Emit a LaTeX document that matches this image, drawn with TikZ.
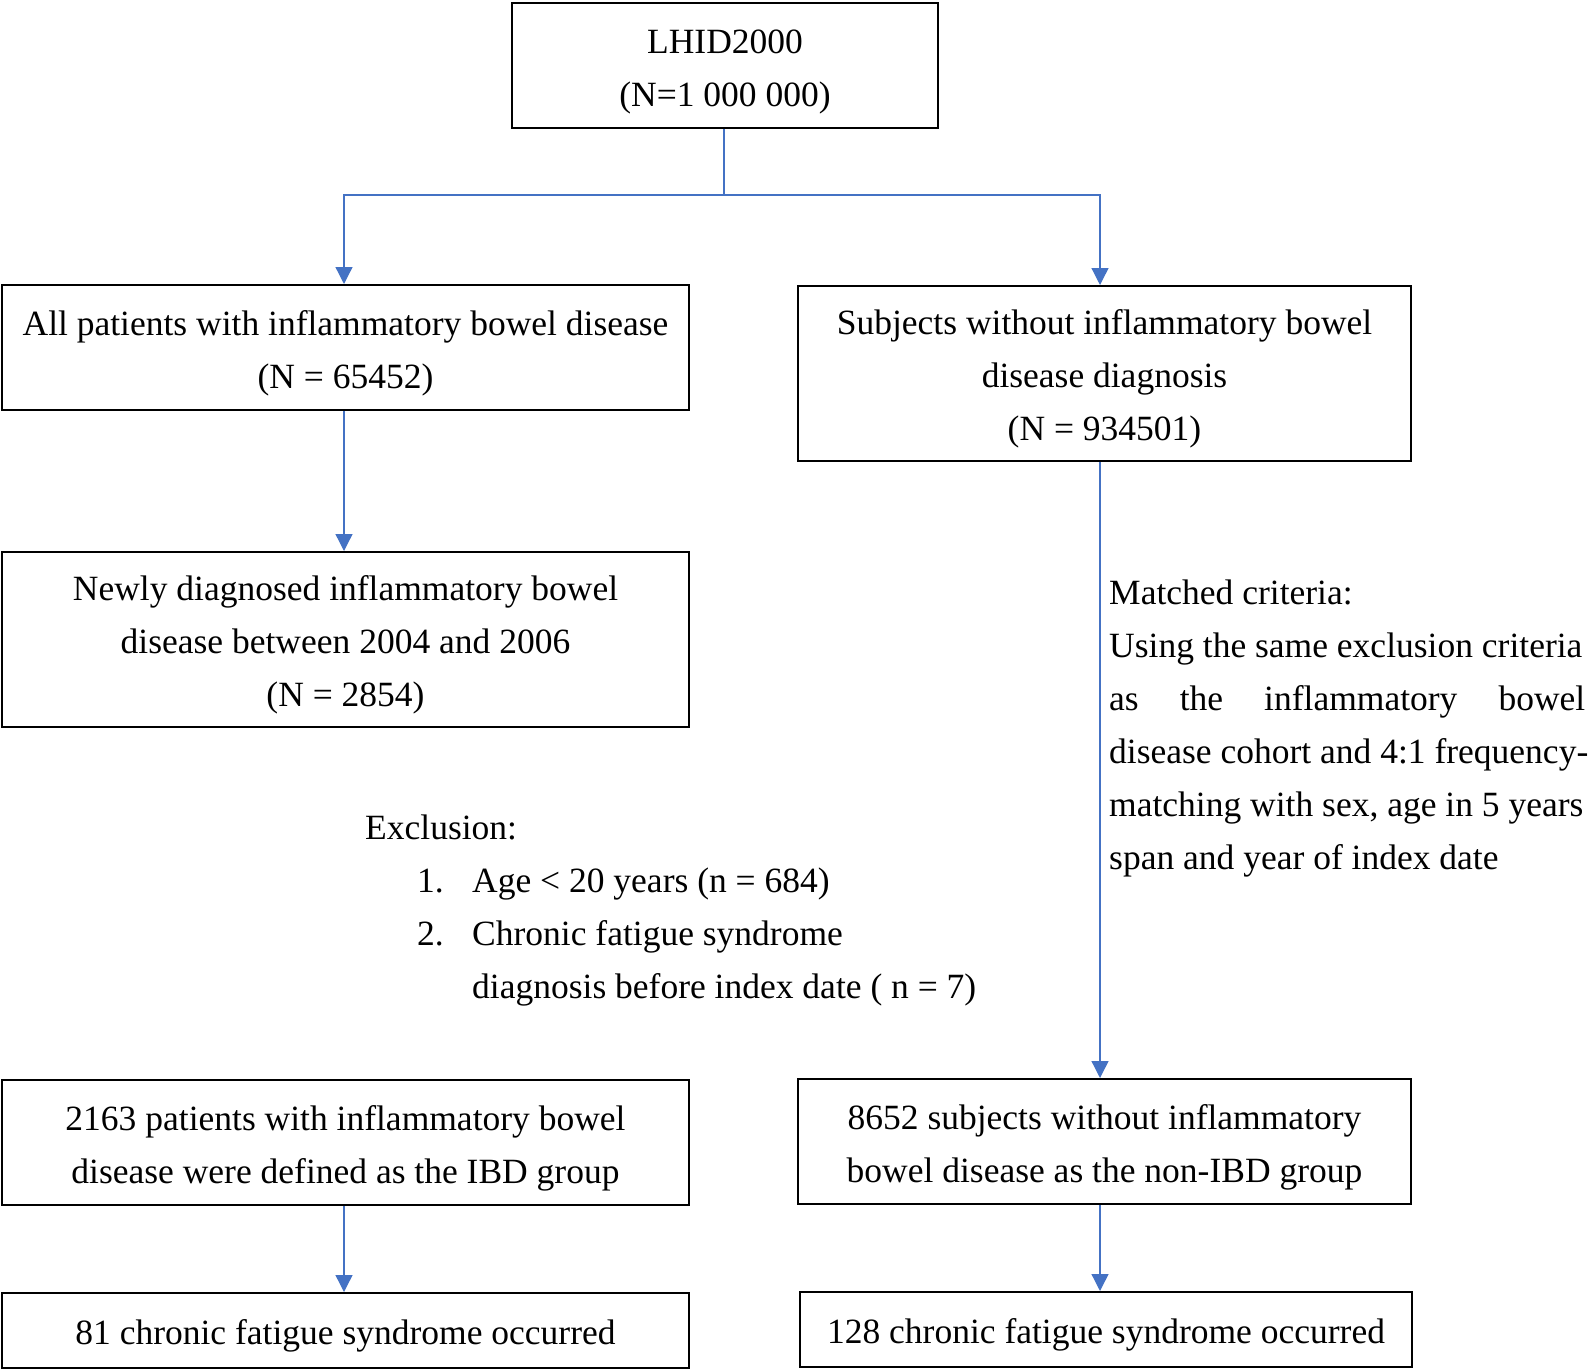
\documentclass[tikz,border=0pt]{standalone}
\usepackage{fontspec}
\setmainfont{Liberation Serif}
\usetikzlibrary{arrows.meta}
\definecolor{arrowblue}{HTML}{4472C4}
\newcommand\mytstrut{\rule{0pt}{36.5pt}}
\begin{document}
\begin{tikzpicture}[x=1pt,y=-1pt,
  every node/.style={font=\fontsize{35.5}{53}\selectfont},
  box/.style={draw=black, line width=2pt, align=center, inner sep=0pt},
  conn/.style={draw=arrowblue, line width=1.3pt},
  arr/.style={conn, -{Triangle[width=17pt,length=17pt]}}]
\useasboundingbox (0,0) rectangle (1594,1370);
% boxes
\node[box, minimum width=426pt, minimum height=125pt] (top) at (725,65.5) {\mytstrut LHID2000\\(N=1 000 000)};
\node[box, minimum width=687pt, minimum height=125pt] (b1) at (345.5,347.5) {\mytstrut All patients with inflammatory bowel disease\\(N = 65452)};
\node[box, minimum width=613pt, minimum height=175pt] (r1) at (1104.5,373.5) {\mytstrut Subjects without inflammatory bowel\\disease diagnosis\\(N = 934501)};
\node[box, minimum width=687pt, minimum height=175pt] (b2) at (345.5,639.5) {\mytstrut Newly diagnosed inflammatory bowel\\disease between 2004 and 2006\\(N = 2854)};
\node[box, minimum width=687pt, minimum height=125pt] (b3) at (345.5,1142.5) {\mytstrut 2163 patients with inflammatory bowel\\disease were defined as the IBD group};
\node[box, minimum width=613pt, minimum height=125pt] (r3) at (1104.5,1141.5) {\mytstrut 8652 subjects without inflammatory\\bowel disease as the non-IBD group};
\node[box, minimum width=687pt, minimum height=75pt] (b4) at (345.5,1330.5) {\mytstrut 81 chronic fatigue syndrome occurred};
\node[box, minimum width=612pt, minimum height=75pt] (r4) at (1106,1329.5) {\mytstrut 128 chronic fatigue syndrome occurred};
% free texts
\node[anchor=west, align=left, inner sep=0pt] (excl) at (365,910.5) {Exclusion:\\
\hspace*{52pt}\makebox[55pt][l]{1.}Age < 20 years (n = 684)\\
\hspace*{52pt}\makebox[55pt][l]{2.}Chronic fatigue syndrome\\
\hspace*{107pt}diagnosis before index date ( n = 7)};
\node[anchor=west, align=left, inner sep=0pt] (match) at (1109,729) {Matched criteria:\\
Using the same exclusion criteria\\
\makebox[476pt][s]{as\hfill the\hfill inflammatory\hfill bowel}\\
disease cohort and 4:1 frequency-\\
matching with sex, age in 5 years\\
span and year of index date};
% connectors
\coordinate (j) at (724,195);
\coordinate (lx) at (344,0);
\coordinate (rx) at (1100,0);
\draw[conn] (top.south -| j) -- (j);
\draw[arr] (j) -| (b1.north -| lx);
\draw[arr] (j) -| (r1.north -| rx);
\draw[arr] (b1.south -| lx) -- (b2.north -| lx);
\draw[arr] (r1.south -| rx) -- (r3.north -| rx);
\draw[arr] (b3.south -| lx) -- (b4.north -| lx);
\draw[arr] (r3.south -| rx) -- (r4.north -| rx);
\end{tikzpicture}
\end{document}
